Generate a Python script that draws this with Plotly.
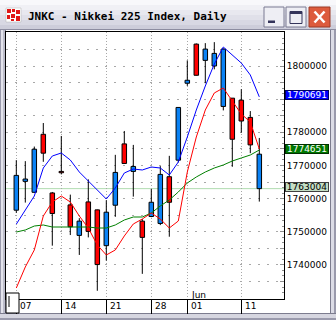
import plotly.graph_objects as go

# ---------------- data ----------------
dates = ["05-07", "05-08", "05-09", "05-10", "05-11", "05-14", "05-15", "05-16", "05-17", "05-18",
         "05-21", "05-22", "05-23", "05-24", "05-25", "05-28", "05-29", "05-30", "05-31", "06-01",
         "06-04", "06-05", "06-06", "06-07", "06-08", "06-11", "06-12", "06-13"]
opens = [1767000, 1765900, 1774900, 1773700, 1755500, 1767800, 1751500, 1753200, 1750100, 1740100,
         1755900, 1767900, 1770600, 1769700, 1748300, 1758900, 1767300, 1758900, 1787500, 1795700,
         1797200, 1805100, 1803800, 1805100, 1777900, 1783400, 1776200, 1773400]
highs = [1771600, 1771300, 1775700, 1782800, 1762000, 1778900, 1761200, 1754100, 1765800, 1756700,
         1759500, 1773200, 1780400, 1776200, 1753800, 1762900, 1769800, 1772900, 1787600, 1801700,
         1806800, 1806900, 1807200, 1805300, 1790300, 1793000, 1786400, 1778300]
lows = [1755700, 1758800, 1761800, 1771100, 1745800, 1767300, 1749000, 1743000, 1748300, 1732200,
        1741300, 1754500, 1770600, 1760600, 1737300, 1754400, 1752000, 1748500, 1770900, 1794000,
        1797100, 1794800, 1799000, 1786600, 1769600, 1779900, 1773700, 1759100]
closes = [1756500, 1765200, 1761900, 1779400, 1761700, 1768200, 1758100, 1748900, 1759000, 1756600,
          1745800, 1758000, 1776500, 1768200, 1753200, 1754600, 1752500, 1766600, 1771600, 1794800,
          1806600, 1801700, 1800000, 1787800, 1790300, 1789700, 1784500, 1763004]
ma_blue = [1752300, 1756560, 1760780, 1769230, 1772850, 1773760, 1771640, 1768020, 1765310, 1762900,
           1759880, 1763200, 1767720, 1768930, 1768630, 1769530, 1769230, 1767120, 1771040, 1778580,
           1786730, 1793970, 1800600, 1805730, 1803320, 1800900, 1797290, 1790691]
ma_red = [1733030, 1739370, 1744500, 1754750, 1758970, 1760780, 1758970, 1754750, 1751130, 1746000,
          1742990, 1744500, 1748720, 1752340, 1753850, 1755660, 1753850, 1751130, 1753240, 1768020,
          1778580, 1786730, 1791860, 1793360, 1789440, 1785520, 1783110, 1774960]
ma_green = [1749920, 1750530, 1751730, 1752040, 1751430, 1751430, 1751430, 1751430, 1751430, 1751130,
            1751130, 1752040, 1753540, 1754450, 1754450, 1755660, 1757770, 1759580, 1761990, 1764710,
            1766520, 1768020, 1769230, 1770140, 1771340, 1772250, 1773150, 1774651]
tick_dates = ["05-07", "05-14", "05-21", "05-28", "06-01", "06-11"]
tick_labels = ["07", "14", "21", "28", "01", "11"]
month_label = ("06-01", "Jun")
title_text = "JNKC - Nikkei 225 Index, Daily"
y_label_values = [1740000, 1750000, 1760000, 1770000, 1780000, 1800000]

# ---------------- geometry helpers ----------------
W, H = 336, 320
PL, PR, PT, PB = 6, 284, 32, 299
X0PX, XSTEP = 16.3, 9.0
Y_REF, Y_REF_PX, PX_PER_UNIT = 1800000, 66.0, 33.15 / 10000


def px(x):
    return (x - PL) / (PR - PL)


def py(y):
    return (PB - y) / (PB - PT)


xmin = (PL - X0PX) / XSTEP
xmax = (PR - X0PX) / XSTEP
ymin = Y_REF - (PB - Y_REF_PX) / PX_PER_UNIT
ymax = Y_REF + (Y_REF_PX - PT) / PX_PER_UNIT

xs = list(range(len(dates)))

fig = go.Figure()

# candle bodies
body_base = [min(o, c) for o, c in zip(opens, closes)]
body_h = [max(abs(c - o), 250) for o, c in zip(opens, closes)]
body_col = ["#ff0000" if c >= o else "#0a82f5" for o, c in zip(opens, closes)]
fig.add_trace(go.Bar(x=xs, y=body_h, base=body_base, width=0.5,
                     marker=dict(color=body_col, line=dict(color="black", width=1)),
                     hoverinfo="skip"))

# wicks
wx, wy = [], []
for i, (o, h, l, c) in enumerate(zip(opens, highs, lows, closes)):
    top, bot = max(o, c), min(o, c)
    if h > top:
        wx += [i, i, None]
        wy += [top, h, None]
    if l < bot:
        wx += [i, i, None]
        wy += [bot, l, None]
fig.add_trace(go.Scatter(x=wx, y=wy, mode="lines", line=dict(color="black", width=1),
                         hoverinfo="skip"))

# moving averages
fig.add_trace(go.Scatter(x=xs, y=ma_green, mode="lines", line=dict(color="#008000", width=1)))
fig.add_trace(go.Scatter(x=xs, y=ma_red, mode="lines", line=dict(color="#ff0000", width=1)))
fig.add_trace(go.Scatter(x=xs, y=ma_blue, mode="lines", line=dict(color="#0000ff", width=1)))

shapes = []
annotations = []


def rect(x0, y0, x1, y1, fill, line=None, lw=0, layer="below"):
    shapes.append(dict(type="rect", xref="paper", yref="paper",
                       x0=px(x0), x1=px(x1), y0=py(y1), y1=py(y0),
                       fillcolor=fill, line=dict(color=line or fill, width=lw), layer=layer))


def seg(x0, y0, x1, y1, color, w=1, dash=None, layer="above"):
    d = dict(type="line", xref="paper", yref="paper", x0=px(x0), x1=px(x1),
             y0=py(y0), y1=py(y1), line=dict(color=color, width=w), layer=layer)
    if dash:
        d["line"]["dash"] = dash
    shapes.append(d)


# window frame
rect(0, 0, 1, 320, "#9a9aac")
rect(1, 30, 3, 320, "#e4e4ec")
rect(3, 30, 5, 320, "#bcbcca")
rect(5, 30, 6, 320, "#7c7c8e")
rect(330, 30, 331, 320, "#7c7c8e")
rect(331, 30, 334, 320, "#dcdce6")
rect(334, 0, 336, 320, "#9a9aac")
rect(0, 313, 336, 314, "#7c7c8e")
rect(0, 314, 336, 318, "#d6d6e0")
rect(0, 318, 336, 320, "#9a9aac")
# client area
rect(6, 30, 330, 313, "#ffffff")
# title bar gradient
tcols = ["#f8f8fb", "#f0f0f5", "#e8e8ef", "#e0e0e9", "#d8d8e3", "#cdcdda"]
for k, col in enumerate(tcols):
    rect(0, k * 5, 336, k * 5 + 5, col)
rect(0, 29, 336, 30, "#8c8ca0")

# icon
rect(6, 8, 21, 22, "#ffffff", "#b0b0b0", 0.5, "above")
for (a, b, c, d) in [(7, 9, 11, 13), (12, 9, 15, 12), (16, 10, 20, 14), (7, 15, 10, 19),
                     (11, 14, 15, 18), (16, 16, 20, 21), (11, 19, 14, 21)]:
    rect(a, b, c, d, "#e01818", layer="above")

# buttons
rect(264, 7, 284, 27, "#eeeef4", "#7a7a92", 1, "above")
rect(268, 20.5, 275, 23, "#34345a", layer="above")
rect(286, 7, 306, 27, "#eeeef4", "#7a7a92", 1, "above")
rect(290, 11.5, 302, 23.5, "rgba(0,0,0,0)", "#34345a", 1, "above")
rect(290, 11.5, 302, 14, "#34345a", layer="above")
rect(309, 7, 330, 27, "#dd5b3d", "#9c3a26", 1, "above")
seg(314.5, 11.5, 324.5, 22.5, "white", 2.5)
seg(324.5, 11.5, 314.5, 22.5, "white", 2.5)

# last close horizontal line
shapes.append(dict(type="line", xref="paper", yref="y", x0=0, x1=1, y0=closes[-1], y1=closes[-1],
                   line=dict(color="#b0dcb0", width=1), layer="below"))

# red MA marker under green label
seg(285, 153.5, 329, 153.5, "#ff0000", 1, "dot")

# bottom-left scroll box
rect(6, 293, 19, 313, "#ffffff", "#000000", 1, "above")
seg(9, 296, 9, 307, "#000000", 1)

# title
annotations.append(dict(text="<b>" + title_text + "</b>", xref="paper", yref="paper",
                        x=px(26), y=py(16.5), xanchor="left", yanchor="middle", showarrow=False,
                        font=dict(family="DejaVu Sans Mono", size=11, color="black")))

# x tick labels
for d, lab in zip(tick_dates, tick_labels):
    annotations.append(dict(text=lab, xref="x", yref="paper", x=dates.index(d), y=py(305.5),
                            xanchor="left", yanchor="middle", xshift=2, showarrow=False,
                            font=dict(family="DejaVu Sans", size=9, color="black")))
annotations.append(dict(text=month_label[1], xref="x", yref="paper", x=dates.index(month_label[0]),
                        y=py(294.5), xanchor="left", yanchor="middle", xshift=2, showarrow=False,
                        font=dict(family="DejaVu Sans", size=9, color="black")))

# value boxes
boxes = [(ma_blue[-1], "#0000ff", "white", "#000060"),
         (ma_green[-1], "#007800", "white", "#003000"),
         (closes[-1], "#c4dec4", "black", "#404040")]
for val, bg, fc, bc in boxes:
    annotations.append(dict(text=str(val), xref="paper", yref="y", x=px(307), y=val,
                            xanchor="center", yanchor="middle", yshift=1.5, showarrow=False,
                            bgcolor=bg, bordercolor=bc, borderwidth=1, borderpad=0,
                            width=42, height=8,
                            font=dict(family="DejaVu Sans", size=9, color=fc)))

grid_vals = list(range(1730000, 1810001, 5000))
grid_text = [f"{v}" if v in y_label_values else "" for v in grid_vals]
tick_idx = [dates.index(d) for d in tick_dates]

fig.update_layout(
    width=W, height=H, margin=dict(l=PL, r=W - PR, t=PT, b=H - PB),
    paper_bgcolor="#c8c8d4", plot_bgcolor="white", showlegend=False,
    barmode="overlay",
    xaxis=dict(range=[xmin, xmax], tickmode="array", tickvals=tick_idx,
               showticklabels=False, ticks="outside", ticklen=14, tickwidth=1, tickcolor="black",
               showgrid=True, gridcolor="#a8a8a8", griddash="1px,2px", gridwidth=1,
               showline=True, linecolor="black", linewidth=1, mirror=True, zeroline=False),
    yaxis=dict(range=[ymin, ymax], side="right", tickmode="array", tickvals=grid_vals,
               ticktext=grid_text, ticks="inside", ticklen=4, tickcolor="#909090",
               tickfont=dict(family="DejaVu Sans", size=9, color="black"),
               showgrid=True, gridcolor="#a8a8a8", griddash="2px,7px", gridwidth=1,
               showline=True, linecolor="black", linewidth=1, mirror=True, zeroline=False,
               minor=dict(tickmode="linear", tick0=1730000, dtick=5000 / 3, ticks="inside",
                          ticklen=2, tickcolor="#909090", showgrid=False)),
    shapes=shapes, annotations=annotations,
)

fig.write_html("out.html")
